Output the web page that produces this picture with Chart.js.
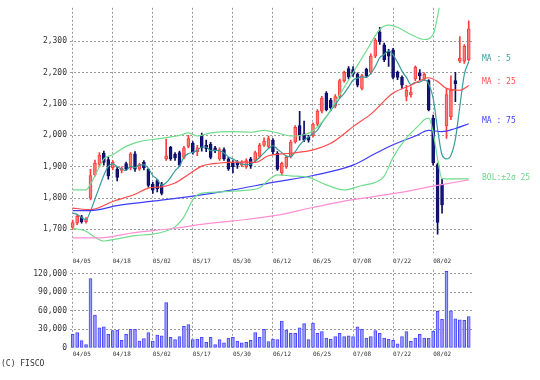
<!DOCTYPE html>
<html><head><meta charset="utf-8">
<script src="https://cdn.jsdelivr.net/npm/chart.js@4"></script>
<style>
html,body{margin:0;padding:0;background:#fff;width:540px;height:380px;overflow:hidden;}
canvas{position:absolute;left:0;}
#price{top:0}
#vol{top:262px}
.lbl{position:absolute;font:8px 'DejaVu Sans Mono',monospace;white-space:pre;line-height:8px;}
</style></head><body>
<canvas id="price" width="540" height="268" style="width:540px;height:268px"></canvas>
<canvas id="vol" width="540" height="118" style="width:540px;height:118px"></canvas>
<div class="lbl" style="left:482px;top:55px;color:#3a9c9c">MA : 5</div>
<div class="lbl" style="left:482px;top:78px;color:#ff4d4d">MA : 25</div>
<div class="lbl" style="left:482px;top:117px;color:#4040ff">MA : 75</div>
<div class="lbl" style="left:482px;top:174px;color:#6fd68c">BOL:±2σ 25</div>
<div class="lbl" style="left:1px;top:360px;color:#333">(C) FISCO</div>
<script>
const dates = ['04/05','04/08','04/09','04/10','04/11','04/12','04/15','04/16','04/17','04/18',
'04/19','04/22','04/23','04/24','04/25','04/26','04/30','05/01','05/02','05/07',
'05/08','05/09','05/10','05/13','05/14','05/15','05/16','05/17','05/20','05/21',
'05/22','05/23','05/24','05/27','05/28','05/29','05/30','05/31','06/03','06/04',
'06/05','06/06','06/07','06/10','06/11','06/12','06/13','06/14','06/17','06/18',
'06/19','06/20','06/21','06/24','06/25','06/26','06/27','06/28','07/01','07/02',
'07/03','07/04','07/05','07/08','07/09','07/10','07/11','07/12','07/16','07/17',
'07/18','07/19','07/22','07/23','07/24','07/25','07/26','07/29','07/30','07/31',
'08/01','08/02','08/05','08/06','08/07','08/08','08/09','08/13','08/14','08/15'];
const tickLabels = ['04/05','04/18','05/02','05/17','05/30','06/12','06/25','07/08','07/22','08/02'];
const priceTicks = [1700, 1800, 1900, 2000, 2100, 2200, 2300];
const volumeTicks = [0, 30000, 60000, 90000, 120000];

const open = [1706,1720,1740,1725,1800,1875,1907,1943,1923,1897,1892,1888,1910,1897,1941,1892,1914,1892,1845,1856,
1845,1925,1962,1940,1945,1930,1965,1975,1948,2000,1968,1972,1960,1925,1955,1925,1912,1915,1905,1900,
1925,1920,1933,1969,1965,1985,1943,1880,1900,1933,1979,2031,2005,1995,2000,2036,2077,2134,2113,2093,
2124,2175,2213,2210,2196,2150,2211,2201,2253,2330,2289,2268,2273,2201,2185,2124,2130,2180,2200,2180,
2175,2055,1907,1845,2030,2060,2175,2237,2237,2242];
const high = [1730,1748,1745,1738,1892,1921,1945,1950,1930,1920,1898,1900,1915,1945,1948,1912,1920,1895,1850,1860,
1850,1988,1965,1945,1950,1965,2000,1980,1968,2007,1985,1978,1965,1960,1960,1930,1920,1920,1920,1925,
1930,1950,1975,1992,1998,1990,1948,1915,1935,1985,2031,2077,2046,2000,2040,2082,2125,2140,2118,2130,
2180,2205,2220,2220,2200,2195,2215,2260,2310,2345,2295,2275,2278,2205,2190,2160,2155,2222,2210,2200,
2178,2065,1912,1860,2148,2190,2201,2315,2290,2366];
const low = [1700,1715,1720,1720,1794,1870,1900,1905,1860,1890,1855,1880,1888,1890,1885,1888,1890,1835,1815,1820,
1810,1920,1920,1920,1900,1925,1960,1940,1935,1950,1948,1925,1945,1920,1920,1888,1880,1895,1900,1895,
1895,1915,1928,1965,1960,1940,1888,1873,1895,1928,1975,1985,1980,1978,1995,2030,2072,2078,2080,2088,
2120,2170,2180,2188,2155,2145,2185,2195,2248,2290,2235,2220,2180,2178,2150,2110,2122,2175,2178,2175,
2078,1905,1685,1752,1990,2050,2108,2232,2230,2238];
const close = [1722,1742,1725,1732,1872,1912,1936,1914,1871,1914,1866,1896,1892,1941,1892,1907,1897,1840,1825,1830,
1815,1935,1925,1928,1905,1960,1990,1945,1960,1960,1958,1930,1952,1955,1925,1893,1900,1905,1915,1920,
1902,1945,1969,1982,1990,1948,1892,1912,1930,1979,2026,2000,1985,1985,2036,2077,2119,2082,2088,2124,
2175,2201,2186,2195,2160,2191,2191,2253,2304,2299,2242,2253,2185,2185,2160,2144,2138,2217,2190,2195,
2082,1912,1722,1778,2130,2145,2165,2247,2284,2340];
const volume = [22000,25000,12000,5500,112000,53000,32500,34000,22000,28000,29000,12500,22000,30000,30000,11000,15000,25000,11000,21000,
19700,73000,17000,13400,18600,35000,37800,13400,14500,17000,9300,17000,5700,13400,8300,16000,17000,11000,8300,9300,
12400,25000,17000,30000,10500,14500,13400,43400,29000,23800,23800,32600,39300,13400,40300,23800,26400,16000,14500,18600,
23800,18600,19700,18600,34100,30500,16000,18600,27900,23800,16000,14500,12400,6700,18600,26400,10900,16000,22200,16000,
16000,27400,59000,46000,123500,60000,47000,45500,44500,50700];

const ma5 = [[0,1752],[1,1748],[2,1738],[3,1731],[4,1759],[5,1797],[6,1835],[7,1873],[8,1901],[9,1909],[10,1900],[11,1892],[12,1888],
[13,1902],[14,1897],[15,1906],[16,1906],[17,1895],[18,1872],[19,1860],[20,1841],[21,1849],[22,1866],[23,1887],[24,1902],[25,1931],
[26,1942],[27,1946],[28,1952],[29,1963],[30,1963],[31,1951],[32,1952],[33,1951],[34,1944],[35,1931],[36,1925],[37,1916],[38,1908],
[39,1907],[40,1908],[41,1917],[42,1930],[43,1944],[44,1958],[45,1967],[46,1956],[47,1945],[48,1934],[49,1932],[50,1948],[51,1969],
[52,1984],[53,1995],[54,2006],[55,2017],[56,2040],[57,2060],[58,2080],[59,2098],[60,2118],[61,2134],[62,2155],[63,2176],[64,2183],
[65,2187],[66,2185],[67,2198],[68,2220],[69,2248],[70,2258],[71,2270],[72,2257],[73,2233],[74,2205],[75,2185],[76,2162],[77,2169],
[78,2170],[79,2177],[80,2164],[81,2119],[82,2020],[83,1938],[84,1925],[85,1937],[86,1988],[87,2093],[88,2194],[89,2236]];
const ma25 = [[0,1768],[4,1763],[9,1789],[14,1812],[17,1832],[20,1836],[23,1848],[26,1875],[29,1902],[33,1912],[37,1915],[41,1914],
[44,1935],[49,1943],[54,1954],[58,1975],[61,2005],[63,2028],[67,2068],[72,2135],[76,2160],[80,2184],[82,2172],[84,2150],[87,2144],[89,2159]];
const ma75 = [[0,1760],[4,1760],[10,1776],[18,1790],[27,1806],[36,1826],[45,1850],[54,1872],[63,1905],[68,1942],[72,1970],[77,1998],
[80,2016],[83,2012],[86,2022],[89,2037]];
const ma200 = [[0,1673],[6,1673],[14,1690],[22,1702],[29,1716],[36,1727],[45,1743],[54,1770],[63,1795],[72,1814],[81,1838],[89,1858]];
const bbUpper = [[0,1826],[3,1826],[4,1845],[6,1900],[7,1925],[9,1938],[12,1965],[15,1980],[18,1987],[21,1993],[24,2000],[26,2008],
[28,1998],[31,2008],[36,2012],[40,2010],[43,2016],[46,2008],[49,1998],[52,2002],[54,2015],[57,2060],[60,2130],[63,2200],[66,2270],
[69,2338],[71,2352],[73,2345],[76,2322],[79,2306],[81,2322],[82,2380],[83,2460],[86,2560],[89,2600]];
const bbLower = [[0,1704],[3,1694],[5,1675],[7,1663],[10,1670],[14,1680],[18,1685],[21,1695],[23,1708],[25,1740],[27,1795],[28,1810],
[31,1818],[36,1822],[40,1826],[42,1832],[44,1858],[46,1874],[49,1871],[53,1866],[57,1842],[61,1826],[65,1840],[68,1850],[70,1870],
[72,1930],[75,1992],[78,2035],[79,2050],[80,2055],[81,2010],[82,1925],[83,1862],[89,1861]];

const FONT = 'DejaVu Sans Mono';
const GRID = '#9a9a9a';
const tickIdx = tickLabels.map(l => dates.indexOf(l));
const UP_FILL = '#ff7a7a', UP_LINE = '#ff3c3c', DN_FILL = '#16167a', DN_LINE = '#0c0c66';
const isUp = i => close[i] >= open[i];

function xScale(h, pad) {
  return {
    type: 'linear', min: -0.606, max: 89.8, offset: false,
    afterBuildTicks: s => { s.ticks = tickIdx.map(v => ({value: v})); },
    afterFit: s => { s.height = h; },
    grid: {color: GRID, drawTicks: false, offset: false},
    border: {display: false, dash: [2, 2]},
    ticks: {autoSkip: false, maxRotation: 0, align: 'start', padding: pad,
      font: {family: FONT, size: 6}, color: '#333',
      callback: v => dates[v] || ''}
  };
}
function yScale(min, max, vals, gridColors) {
  return {
    type: 'linear', min: min, max: max,
    afterBuildTicks: s => { s.ticks = vals.map(v => ({value: v})); },
    afterFit: s => { s.width = 70; },
    grid: {color: gridColors, drawTicks: false},
    border: {display: false, dash: [2, 2]},
    ticks: {autoSkip: false, padding: 3, font: {family: FONT, size: 8}, color: '#333',
      callback: v => v.toLocaleString('en-US')}
  };
}
const line = (data, color) => ({type: 'line', data: data.map(([x, y]) => ({x, y})), borderColor: color,
  borderWidth: 1.2, pointRadius: 0, cubicInterpolationMode: 'monotone', fill: false, order: 1});

new Chart(document.getElementById('price'), {
  type: 'bar',
  data: {datasets: [
    {data: dates.map((d, i) => ({x: i, y: [low[i], high[i]]})), barThickness: 1, grouped: false, order: 3,
      backgroundColor: dates.map((d, i) => isUp(i) ? UP_LINE : DN_LINE)},
    {data: dates.map((d, i) => ({x: i, y: [open[i], close[i]]})), barThickness: 3, grouped: false, order: 2,
      minBarLength: 1, borderSkipped: false, borderWidth: 1,
      backgroundColor: dates.map((d, i) => isUp(i) ? UP_FILL : DN_FILL),
      borderColor: dates.map((d, i) => isUp(i) ? UP_LINE : DN_LINE)},
    line(ma200, '#ff8fd2'),
    line(bbLower, '#72dc8e'),
    line(bbUpper, '#72dc8e'),
    line(ma75, '#3c3cff'),
    line(ma25, '#ff4a4a'),
    line(ma5, '#3a9c9c')
  ]},
  options: {
    responsive: false, animation: false, devicePixelRatio: 1,
    layout: {padding: {left: 0, right: 67.7, top: 0, bottom: 0}},
    plugins: {legend: {display: false}, tooltip: {enabled: false}},
    scales: {
      x: xScale(15, 5),
      y: yScale(1624.7, 2407.2, priceTicks, GRID)
    }
  }
});

new Chart(document.getElementById('vol'), {
  type: 'bar',
  data: {datasets: [
    {data: volume.map((v, i) => ({x: i, y: v})), barThickness: 3, borderWidth: 1, borderSkipped: false,
      grouped: false, backgroundColor: '#9c9cff', borderColor: '#4646ff'}
  ]},
  options: {
    responsive: false, animation: false, devicePixelRatio: 1,
    layout: {padding: {left: 0, right: 67.7, top: 4.8, bottom: 0}},
    plugins: {legend: {display: false}, tooltip: {enabled: false}},
    scales: {
      x: xScale(32, 3),
      y: yScale(0, 126000, volumeTicks, ['rgba(0,0,0,0)', GRID, GRID, GRID, GRID])
    }
  }
});
</script>
</body></html>
